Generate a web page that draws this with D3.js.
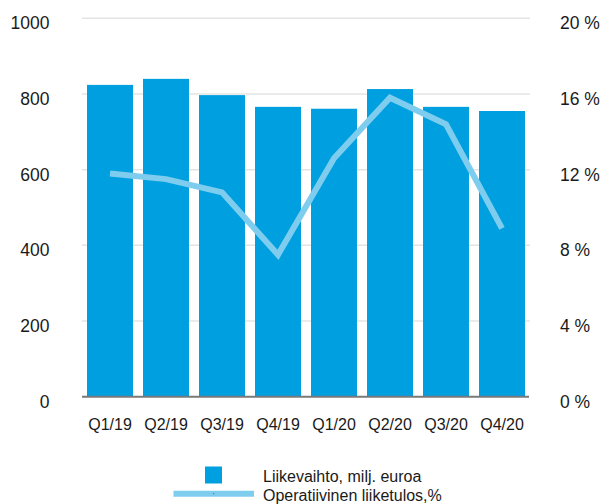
<!DOCTYPE html>
<html>
<head>
<meta charset="utf-8">
<script src="https://cdn.jsdelivr.net/npm/d3@7"></script>
<style>
  html, body { margin: 0; padding: 0; background: #ffffff; }
  svg { display: block; }
  text { font-family: "Liberation Sans", Arial, sans-serif; fill: #1a1a1a; }
</style>
</head>
<body>
<svg id="chart" width="603" height="504"></svg>
<script>
const categories = ["Q1/19", "Q2/19", "Q3/19", "Q4/19", "Q1/20", "Q2/20", "Q3/20", "Q4/20"];
const revenue = [824, 840, 797, 766, 761, 813, 766, 755];
const marginPct = [11.8, 11.5, 10.8, 7.5, 12.6, 15.8, 14.4, 8.9];
const leftTicks = [0, 200, 400, 600, 800, 1000];
const rightTicks = [0, 4, 8, 12, 16, 20];
const legendLabels = ["Liikevaihto, milj. euroa", "Operatiivinen liiketulos,%"];

const barColor = "#009fdf";
const lineColor = "#7fcdee";

const svg = d3.select("#chart");
const plotLeft = 82, plotRight = 530, plotTop = 18.3, plotBottom = 396.7;

const x = d3.scaleBand().domain(categories).range([plotLeft, plotRight])
  .paddingInner(10 / 56).paddingOuter(5 / 56);
const yL = d3.scaleLinear().domain([0, 1000]).range([plotBottom, plotTop]);
const yR = d3.scaleLinear().domain([0, 20]).range([plotBottom, plotTop]);

// gridlines
svg.append("g").selectAll("line").data(leftTicks.filter(d => d > 0)).join("line")
  .attr("x1", plotLeft).attr("x2", plotRight)
  .attr("y1", d => yL(d)).attr("y2", d => yL(d))
  .attr("stroke", "#e4e4e4").attr("stroke-width", 1.5);

// bars
svg.append("g").selectAll("rect").data(categories).join("rect")
  .attr("x", d => x(d))
  .attr("width", x.bandwidth())
  .attr("y", (d, i) => yL(revenue[i]))
  .attr("height", (d, i) => plotBottom - yL(revenue[i]))
  .attr("fill", barColor);

// baseline
svg.append("line")
  .attr("x1", plotLeft).attr("x2", plotRight - 1)
  .attr("y1", plotBottom).attr("y2", plotBottom)
  .attr("stroke", "#7a7a7a").attr("stroke-width", 2);

// line series
const line = d3.line()
  .x((d, i) => x(categories[i]) + x.bandwidth() / 2)
  .y(d => yR(d));
svg.append("path").datum(marginPct)
  .attr("d", line)
  .attr("fill", "none")
  .attr("stroke", lineColor)
  .attr("stroke-width", 6)
  .attr("stroke-linejoin", "miter")
  .attr("stroke-miterlimit", 10)
  .attr("stroke-linecap", "butt");

// left axis labels
const leftAxis = d3.axisLeft(yL).tickValues(leftTicks).tickSize(0).tickPadding(0)
  .tickFormat(d3.format("d"));
const gL = svg.append("g").attr("transform", `translate(49.5,0)`).call(leftAxis);
gL.select(".domain").remove();
gL.selectAll("text").attr("font-size", 17.5).attr("dy", "10.5px")
  .attr("font-family", "Liberation Sans, Arial, sans-serif").attr("fill", "#1a1a1a");

// right axis labels
const rightAxis = d3.axisRight(yR).tickValues(rightTicks).tickSize(0).tickPadding(0)
  .tickFormat(d => d + " %");
const gR = svg.append("g").attr("transform", `translate(560,0)`).call(rightAxis);
gR.select(".domain").remove();
gR.selectAll("text").attr("font-size", 17.5).attr("dy", "10.5px")
  .attr("font-family", "Liberation Sans, Arial, sans-serif").attr("fill", "#1a1a1a");

// x axis labels
const xAxis = d3.axisBottom(x).tickSize(0).tickPadding(0);
const gX = svg.append("g").attr("transform", `translate(0,430)`).call(xAxis);
gX.select(".domain").remove();
gX.selectAll("text").attr("font-size", 16).attr("dy", "0").attr("y", 0)
  .attr("font-family", "Liberation Sans, Arial, sans-serif").attr("fill", "#1a1a1a");

// legend
const lg = svg.append("g");
lg.append("rect").attr("x", 205).attr("y", 466.5).attr("width", 17).attr("height", 17).attr("fill", barColor);
lg.append("line").attr("x1", 173.5).attr("x2", 254).attr("y1", 493.7).attr("y2", 493.7)
  .attr("stroke", lineColor).attr("stroke-width", 6);
lg.append("rect").attr("x", 213).attr("y", 493).attr("width", 1.2).attr("height", 1.2).attr("fill", barColor);
lg.selectAll("text.lab").data(legendLabels).join("text").attr("class", "lab")
  .attr("x", 263).attr("y", (d, i) => i === 0 ? 482.3 : 500.5)
  .attr("font-size", 16).text(d => d);
</script>
</body>
</html>
